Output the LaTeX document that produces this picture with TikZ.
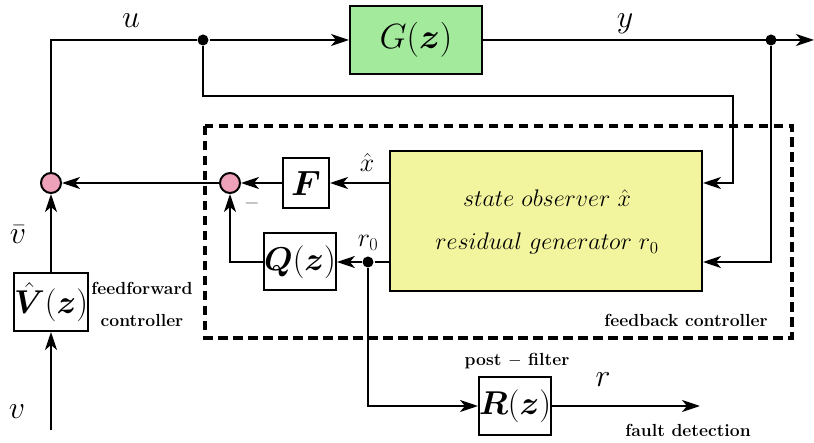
\RequirePackage{fix-cm}
\documentclass[tikz,border=0pt]{standalone}
\usepackage{bm}
\usetikzlibrary{arrows.meta}

\definecolor{plantgreen}{RGB}{163,234,156}
\definecolor{obsyellow}{RGB}{243,245,158}
\definecolor{sumpink}{RGB}{238,162,186}

\tikzset{
  blk/.style={draw, line width=2pt, inner sep=0pt},
  sumc/.style={circle, draw, fill=sumpink, minimum size=20pt, inner sep=0pt, line width=2pt},
  dotn/.style={circle, fill=black, minimum size=11pt, inner sep=0pt},
  boxfont/.style={font={\fontsize{33}{40}\selectfont}},
  bigfont/.style={font={\fontsize{35}{42}\selectfont}},
  sigfont/.style={inner sep=0pt, font={\fontsize{32}{38}\selectfont}},
  smallsig/.style={inner sep=0pt, font={\fontsize{26}{31}\selectfont}},
  obsfont/.style={inner sep=0pt, font={\fontsize{24}{29}\selectfont}},
  note/.style={inner sep=0pt, font={\fontsize{17.5}{21}\selectfont\bfseries}},
  arr/.style={->},
  frame/.style={line width=4pt, dash pattern=on 9.5pt off 5.5pt}
}

\begin{document}
\begin{tikzpicture}[x=1pt, y=-1pt, line width=2pt,
  >={Stealth[length=18pt,width=12pt,inset=5pt]}]
\useasboundingbox (0,0) rectangle (814,443);

% feedback controller frame
\draw[frame] (205,126) rectangle (792,338);

% blocks
\node[blk, fill=plantgreen, bigfont, minimum width=132pt, minimum height=68pt] (G) at (416,40) {$G(\bm{z})$};
\node[blk, fill=obsyellow, minimum width=312pt, minimum height=140pt] (obs) at (546,221) {};
\node[obsfont, anchor=base] (t1) at (547,207) {$state\ observer\ \hat{x}$};
\node[obsfont, anchor=base] (t2) at (547,250) {$residual\ generator\ r_0$};
\node[blk, fill=white, bigfont, minimum width=46pt, minimum height=50pt] (F) at (306,183) {$\bm{F}$};
\node[blk, fill=white, boxfont, minimum width=70pt, minimum height=57pt] (Q) at (300,262) {$\bm{Q}(\bm{z})$};
\node[blk, fill=white, boxfont, minimum width=70pt, minimum height=58pt] (V) at (51,302) {$\hat{\bm{V}}(\bm{z})$};
\node[blk, fill=white, boxfont, minimum width=71pt, minimum height=58pt] (R) at (515,406) {$\bm{R}(\bm{z})$};

% summing points and branch points
\node[sumc] (s1) at (51,183) {};
\node[sumc] (s2) at (230,183) {};
\node[dotn] (j1) at (203,40) {};
\node[dotn] (j2) at (771,40) {};
\node[dotn] (j3) at (368,262) {};

% free ends and bends
\coordinate (out) at (814,40);
\coordinate (k1) at (733,96);
\coordinate (vin) at (51,430);
\coordinate (det) at (700,406);

% signal paths
\draw (s1.north) |- (j1);
\draw[arr] (j1) -- (G.west);
\draw[arr] (j1) |- (k1) |- (obs.east |- s1);
\draw[arr] (G.east) -- (out);
\draw[arr] (j2) |- (obs.east |- j3);
\draw[arr] (obs.west |- s1) -- (F.east);
\draw[arr] (F.west) -- (s2.east);
\draw[arr] (s2.west) -- (s1.east);
\draw (obs.west |- j3) -- (j3);
\draw[arr] (j3) -- (Q.east);
\draw[arr] (Q.west) -| (s2.south);
\draw[arr] (j3) |- (R.west);
\draw[arr] (R.east) -- (det);
\draw[arr] (vin) -- (V.south);
\draw[arr] (V.north) -- (s1.south);

% signal labels
\node[sigfont] (lu) at (131,21) {$u$};
\node[sigfont] (ly) at (625,24) {$y$};
\node[smallsig] (lx) at (367,162) {$\hat{x}$};
\node[smallsig] (lr0) at (368,243) {$r_0$};
\node[sigfont] (lr) at (603,380) {$r$};
\node[sigfont] (lvb) at (18,235) {$\bar{v}$};
\node[sigfont] (lv) at (17,412) {$v$};
\node[inner sep=0pt, text=black!55, font={\fontsize{20}{24}\selectfont}] (minus) at (252,204) {$-$};

% annotations
\node[note] (ff1) at (142,288) {feedforward};
\node[note] (ff2) at (142,320) {controller};
\node[note] (fb) at (686,320) {feedback controller};
\node[note] (pf) at (517,361) {post $-$ filter};
\node[note] (fd) at (688,430) {fault detection};
\end{tikzpicture}
\end{document}
